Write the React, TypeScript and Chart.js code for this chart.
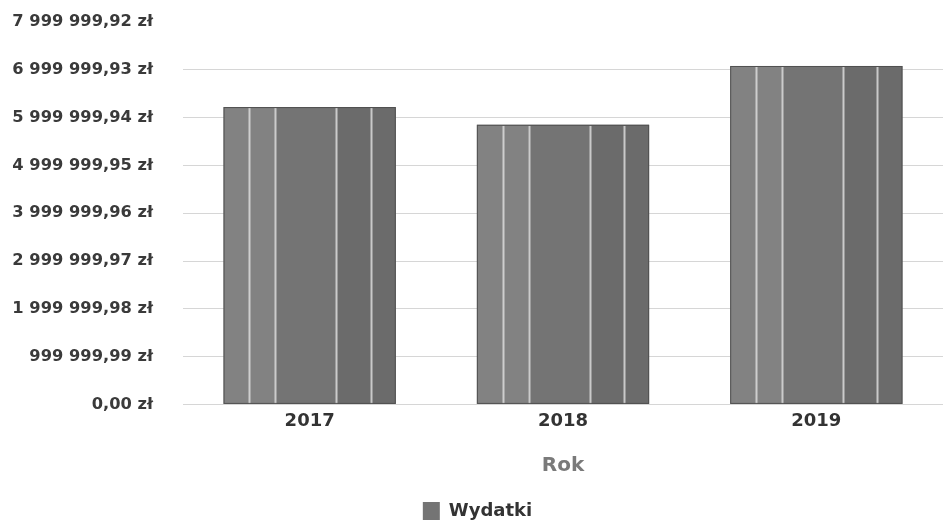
import React, { useEffect, useRef } from "react";
import { Chart, registerables } from "chart.js";

Chart.register(...registerables);

const years = ["2017", "2018", "2019"];
const expenses = [6220000, 5850000, 7080000];
const yTickValues = [
  0, 999999.99, 1999999.98, 2999999.97, 3999999.96, 4999999.95, 5999999.94,
  6999999.93, 7999999.92,
];
const seriesName = "Wydatki";
const axisTitle = "Rok";

const FONT = "'DejaVu Sans', sans-serif";

function formatPLN(v: number): string {
  const [intPart, dec] = Math.abs(v).toFixed(2).split(".");
  const grouped = intPart.replace(/\B(?=(\d{3})+(?!\d))/g, " ");
  return `${grouped},${dec} zł`;
}

const stripePlugin = {
  id: "stripes",
  afterDatasetsDraw(chart: any) {
    const ctx = chart.ctx;
    const meta = chart.getDatasetMeta(0);
    meta.data.forEach((bar: any) => {
      const { x, y, base, width } = bar.getProps(["x", "y", "base", "width"], true);
      const left = x - width / 2;
      const h = base - y;
      ctx.save();
      ctx.fillStyle = "rgba(255,255,255,0.10)";
      ctx.fillRect(left, y, width * 0.3, h);
      ctx.fillStyle = "rgba(0,0,0,0.07)";
      ctx.fillRect(left + width * 0.66, y, width * 0.34, h);
      ctx.strokeStyle = "rgba(225,225,225,0.8)";
      ctx.lineWidth = 2;
      [0.15, 0.3, 0.655, 0.855].forEach((f) => {
        const sx = Math.round(left + width * f) + 0.5;
        ctx.beginPath();
        ctx.moveTo(sx, y + 1);
        ctx.lineTo(sx, base);
        ctx.stroke();
      });
      ctx.strokeStyle = "#505050";
      ctx.lineWidth = 1;
      ctx.strokeRect(left + 0.5, y + 0.5, width - 1, h - 1);
      ctx.restore();
    });
  },
};

export default function App() {
  const ref = useRef<HTMLCanvasElement | null>(null);
  useEffect(() => {
    if (!ref.current) return;
    const chart = new Chart(ref.current, {
      type: "bar",
      data: {
        labels: years,
        datasets: [
          {
            label: seriesName,
            data: expenses,
            backgroundColor: "#747474",
            borderWidth: 0,
            barPercentage: 0.68,
            categoryPercentage: 1,
          },
        ],
      },
      options: {
        responsive: false,
        animation: false,
        layout: { padding: { left: 12, right: 0, top: 22, bottom: -10 } },
        plugins: {
          legend: {
            position: "bottom",
            labels: {
              boxWidth: 17,
              boxHeight: 18,
              padding: 4,
              color: "#333333",
              font: { family: FONT, size: 18, weight: "bold" },
            },
          },
          tooltip: { enabled: false },
        },
        scales: {
          x: {
            grid: { display: false, drawTicks: false },
            border: { display: false },
            ticks: {
              color: "#333333",
              padding: 6,
              font: { family: FONT, size: 18, weight: "bold" },
            },
            title: {
              display: true,
              text: axisTitle,
              color: "#7a7a7a",
              padding: { top: 16, bottom: 20 },
              font: { family: FONT, size: 20, weight: "bold" },
            },
          },
          y: {
            min: 0,
            max: yTickValues[yTickValues.length - 1],
            afterBuildTicks: (axis: any) => {
              axis.ticks = yTickValues.map((v) => ({ value: v }));
            },
            afterFit: (axis: any) => {
              axis.width = 171;
            },
            grid: {
              drawTicks: true,
              tickLength: 30,
              tickColor: "rgba(0,0,0,0)",
              color: (c: any) =>
                c.tick && c.tick.value === yTickValues[yTickValues.length - 1]
                  ? "rgba(0,0,0,0)"
                  : "#d6d6d6",
            },
            border: { display: false },
            ticks: {
              color: "#3a3a3a",
              padding: 0,
              font: { family: FONT, size: 16.3, weight: "bold" },
              callback: (v: any) => formatPLN(Number(v)),
            },
          },
        },
      },
      plugins: [stripePlugin],
    });
    return () => chart.destroy();
  }, []);
  return (
    <div style={{ position: "absolute", left: 0, top: 0, width: 943, height: 520, background: "#fff" }}>
      <canvas ref={ref} width={943} height={520} style={{ display: "block" }} />
    </div>
  );
}
